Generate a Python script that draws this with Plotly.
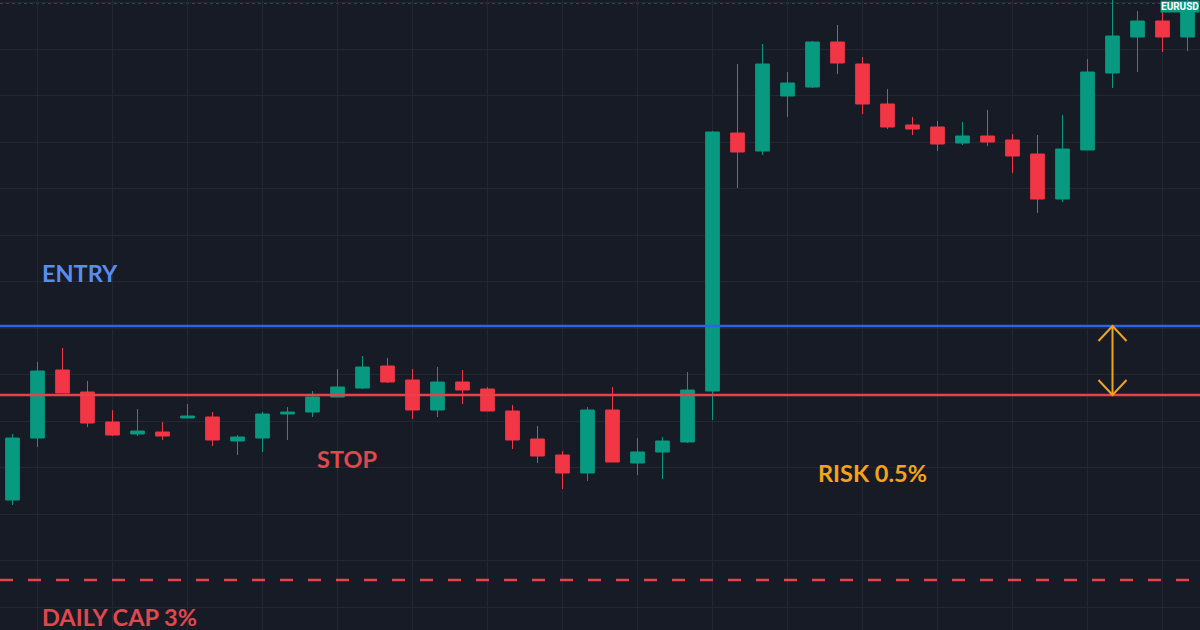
import plotly.graph_objects as go

# ---- data (EURUSD, one bar per period) ----
bar_index = list(range(48))
open_ = [1.08500, 1.08562, 1.08630, 1.08608, 1.08578, 1.08566, 1.08568, 1.08582, 1.08583, 1.08559,
         1.08562, 1.08586, 1.08588, 1.08603, 1.08612, 1.08634, 1.08620, 1.08590, 1.08618, 1.08611,
         1.08589, 1.08561, 1.08545, 1.08527, 1.08590, 1.08537, 1.08548, 1.08558, 1.08609, 1.08867,
         1.08849, 1.08904, 1.08913, 1.08958, 1.08936, 1.08896, 1.08875, 1.08873, 1.08857, 1.08864,
         1.08860, 1.08846, 1.08801, 1.08850, 1.08927, 1.08963, 1.08979, 1.08963]
high = [1.08566, 1.08638, 1.08652, 1.08619, 1.08590, 1.08591, 1.08578, 1.08596, 1.08588, 1.08565,
        1.08588, 1.08593, 1.08609, 1.08631, 1.08644, 1.08642, 1.08631, 1.08633, 1.08630, 1.08613,
        1.08595, 1.08574, 1.08549, 1.08593, 1.08613, 1.08562, 1.08563, 1.08628, 1.08869, 1.08936,
        1.08956, 1.08928, 1.08959, 1.08975, 1.08943, 1.08911, 1.08883, 1.08879, 1.08878, 1.08890,
        1.08866, 1.08865, 1.08885, 1.08941, 1.09005, 1.08989, 1.08989, 1.09004]
low = [1.08495, 1.08553, 1.08607, 1.08573, 1.08564, 1.08564, 1.08560, 1.08582, 1.08554, 1.08545,
       1.08548, 1.08560, 1.08583, 1.08603, 1.08611, 1.08617, 1.08581, 1.08583, 1.08596, 1.08589,
       1.08551, 1.08537, 1.08511, 1.08519, 1.08538, 1.08525, 1.08521, 1.08557, 1.08580, 1.08812,
       1.08845, 1.08883, 1.08912, 1.08926, 1.08886, 1.08871, 1.08865, 1.08849, 1.08855, 1.08854,
       1.08827, 1.08787, 1.08798, 1.08850, 1.08912, 1.08928, 1.08948, 1.08949]
close = [1.08562, 1.08629, 1.08607, 1.08577, 1.08565, 1.08569, 1.08564, 1.08584, 1.08560, 1.08563,
         1.08586, 1.08588, 1.08603, 1.08613, 1.08633, 1.08618, 1.08590, 1.08618, 1.08610, 1.08589,
         1.08560, 1.08544, 1.08527, 1.08590, 1.08538, 1.08548, 1.08559, 1.08610, 1.08868, 1.08848,
         1.08936, 1.08917, 1.08958, 1.08937, 1.08896, 1.08873, 1.08871, 1.08856, 1.08864, 1.08858,
         1.08844, 1.08801, 1.08851, 1.08928, 1.08964, 1.08979, 1.08963, 1.08997]

symbol = "EURUSD"
entry_level = 1.08674
stop_level = 1.08605
daily_cap_level = 1.08420
risk_bar = 44  # bar where the risk arrow is drawn

labels = {"entry": "ENTRY", "stop": "STOP", "risk": "RISK 0.5%", "cap": "DAILY CAP 3%"}

# ---- style ----
BG = "#171b26"
GRID = "#232733"
GREEN = "#089981"
RED = "#f23645"
BLUE_LINE = "#2e63e6"
BLUE_TXT = "#5b8def"
RED_LINE = "#e5434c"
RED_TXT = "#e0474f"
ORANGE = "#f5a31a"
FONT = "Lato"

fig = go.Figure()
fig.add_trace(go.Candlestick(
    x=bar_index, open=open_, high=high, low=low, close=close,
    increasing=dict(line=dict(color=GREEN, width=1), fillcolor=GREEN),
    decreasing=dict(line=dict(color=RED, width=1), fillcolor=RED),
    whiskerwidth=0, hoverinfo="skip", showlegend=False,
))

x0, x1 = bar_index[0] - 0.5, bar_index[-1] + 0.5

shapes = []
# last price dotted line
shapes.append(dict(type="line", xref="paper", x0=0, x1=1, yref="y", y0=close[-1], y1=close[-1],
                   line=dict(color="#2a7d74", width=1, dash="dot"), layer="below"))
# entry / stop / cap
shapes.append(dict(type="line", xref="paper", x0=0, x1=1, yref="y", y0=entry_level, y1=entry_level,
                   line=dict(color=BLUE_LINE, width=2.5)))
shapes.append(dict(type="line", xref="paper", x0=0, x1=1, yref="y", y0=stop_level, y1=stop_level,
                   line=dict(color=RED_LINE, width=2.5)))
shapes.append(dict(type="line", xref="paper", x0=0, x1=1, yref="y", y0=daily_cap_level, y1=daily_cap_level,
                   line=dict(color=RED_LINE, width=2.5, dash="13px,15px")))

# risk double arrow (open chevrons)
ax = bar_index[risk_bar]
arm_x = 0.56
arm_y = 0.00015
shapes.append(dict(type="line", xref="x", yref="y", x0=ax, x1=ax, y0=entry_level, y1=stop_level,
                   line=dict(color=ORANGE, width=2)))
shapes.append(dict(type="path", xref="x", yref="y",
                   path=f"M {ax-arm_x},{entry_level-arm_y} L {ax},{entry_level} L {ax+arm_x},{entry_level-arm_y}",
                   line=dict(color=ORANGE, width=2)))
shapes.append(dict(type="path", xref="x", yref="y",
                   path=f"M {ax-arm_x},{stop_level+arm_y} L {ax},{stop_level} L {ax+arm_x},{stop_level+arm_y}",
                   line=dict(color=ORANGE, width=2)))

def txt(text, x, y, color):
    return dict(text=text, xref="paper", yref="paper", x=x, y=y, xanchor="left", yanchor="middle",
                showarrow=False, font=dict(family=FONT, size=23.5, color=color, weight="bold"))

W, H = 1200, 630
annotations = [
    txt(labels["entry"], 40 / W, 1 - 273 / H, BLUE_TXT),
    txt(labels["stop"], 315 / W, 1 - 459 / H, RED_TXT),
    txt(labels["risk"], 816 / W, 1 - 473 / H, ORANGE),
    txt(labels["cap"], 40 / W, 1 - 617 / H, RED_TXT),
    dict(text=f"<b>{symbol}</b>", xref="paper", yref="paper", x=1, y=1, xanchor="right",
         yanchor="top", showarrow=False, bgcolor=GREEN, borderpad=0,
         font=dict(family="Roboto", size=10, color="#ffffff")),
]

fig.update_layout(
    width=W, height=H, margin=dict(l=0, r=0, t=0, b=0),
    paper_bgcolor=BG, plot_bgcolor=BG, boxgap=0.22, showlegend=False,
    shapes=shapes, annotations=annotations, hovermode=False,
    xaxis=dict(range=[x0, x1], showticklabels=False, showgrid=True, gridcolor=GRID, gridwidth=1,
               tick0=1, dtick=3, zeroline=False, showline=False, rangeslider=dict(visible=False),
               fixedrange=True),
    yaxis=dict(range=[1.0837, 1.0900], showticklabels=False, showgrid=True, gridcolor=GRID, gridwidth=1,
               tick0=1.08951, dtick=0.000465, zeroline=False, showline=False, fixedrange=True),
)

fig.write_html("out.html", config={"displayModeBar": False, "staticPlot": True})
